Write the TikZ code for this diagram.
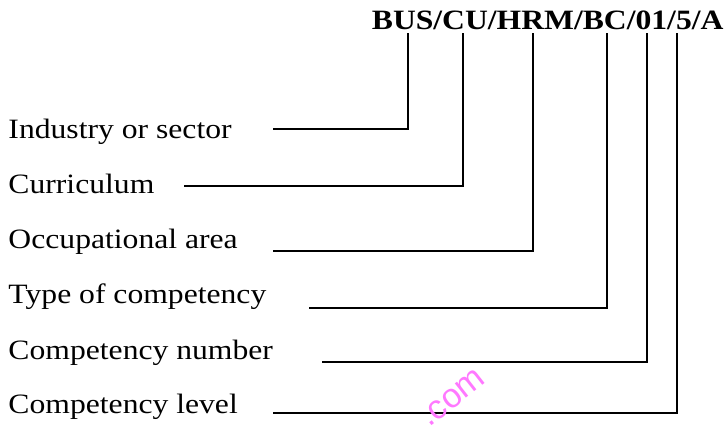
\documentclass[tikz,border=0pt]{standalone}
\usepackage{fontspec}
\setmainfont{Liberation Serif}[FakeStretch=1.13]
\newfontfamily\wmfont{Liberation Sans}
\definecolor{wmpink}{RGB}{255,120,255}
\begin{document}
\begin{tikzpicture}[x=1pt,y=-1pt,
  lbl/.style={anchor=base west,inner sep=0pt,font=\fontsize{28}{30}\selectfont},
  code/.style={anchor=base west,inner sep=0pt,font=\fontsize{28}{30}\selectfont\bfseries},
  conn/.style={line width=2pt,line cap=rect,line join=miter}]
\useasboundingbox (0,0) rectangle (726,427);
\clip (0,0) rectangle (726,427);
\fill[white] (0,0) rectangle (726,427);
\node[code] (c) at (371.7,30) {BUS/CU/HRM/BC/01/5/A};
\node[lbl] (l1) at (8.3,138.5) {Industry or sector};
\node[lbl] (l2) at (8.3,194) {Curriculum};
\node[lbl] (l3) at (8.3,249) {Occupational area};
\node[lbl] (l4) at (8.3,304) {Type of competency};
\node[lbl] (l5) at (8.3,360) {Competency number};
\node[lbl] (l6) at (8.3,414) {Competency level};
\coordinate (s1) at (274,129.3);
\coordinate (s2) at (185,186);
\coordinate (s3) at (274,250.7);
\coordinate (s4) at (310,307.7);
\coordinate (s5) at (322.7,361.8);
\coordinate (s6) at (274,413);
\coordinate (t1) at (408.3,34);
\coordinate (t2) at (462.7,34);
\coordinate (t3) at (533.3,34);
\coordinate (t4) at (607,34);
\coordinate (t5) at (646.7,34);
\coordinate (t6) at (676.7,34);
\draw[conn] (s1) -| (t1);
\draw[conn] (s2) -| (t2);
\draw[conn] (s3) -| (t3);
\draw[conn] (s4) -| (t4);
\draw[conn] (s5) -| (t5);
\draw[conn] (s6) -| (t6);
\node[anchor=base west,inner sep=0pt,rotate=38,text=wmpink,font=\wmfont\fontsize{34}{36}\selectfont] (wm) at (429,428) {.com};
\end{tikzpicture}
\end{document}
